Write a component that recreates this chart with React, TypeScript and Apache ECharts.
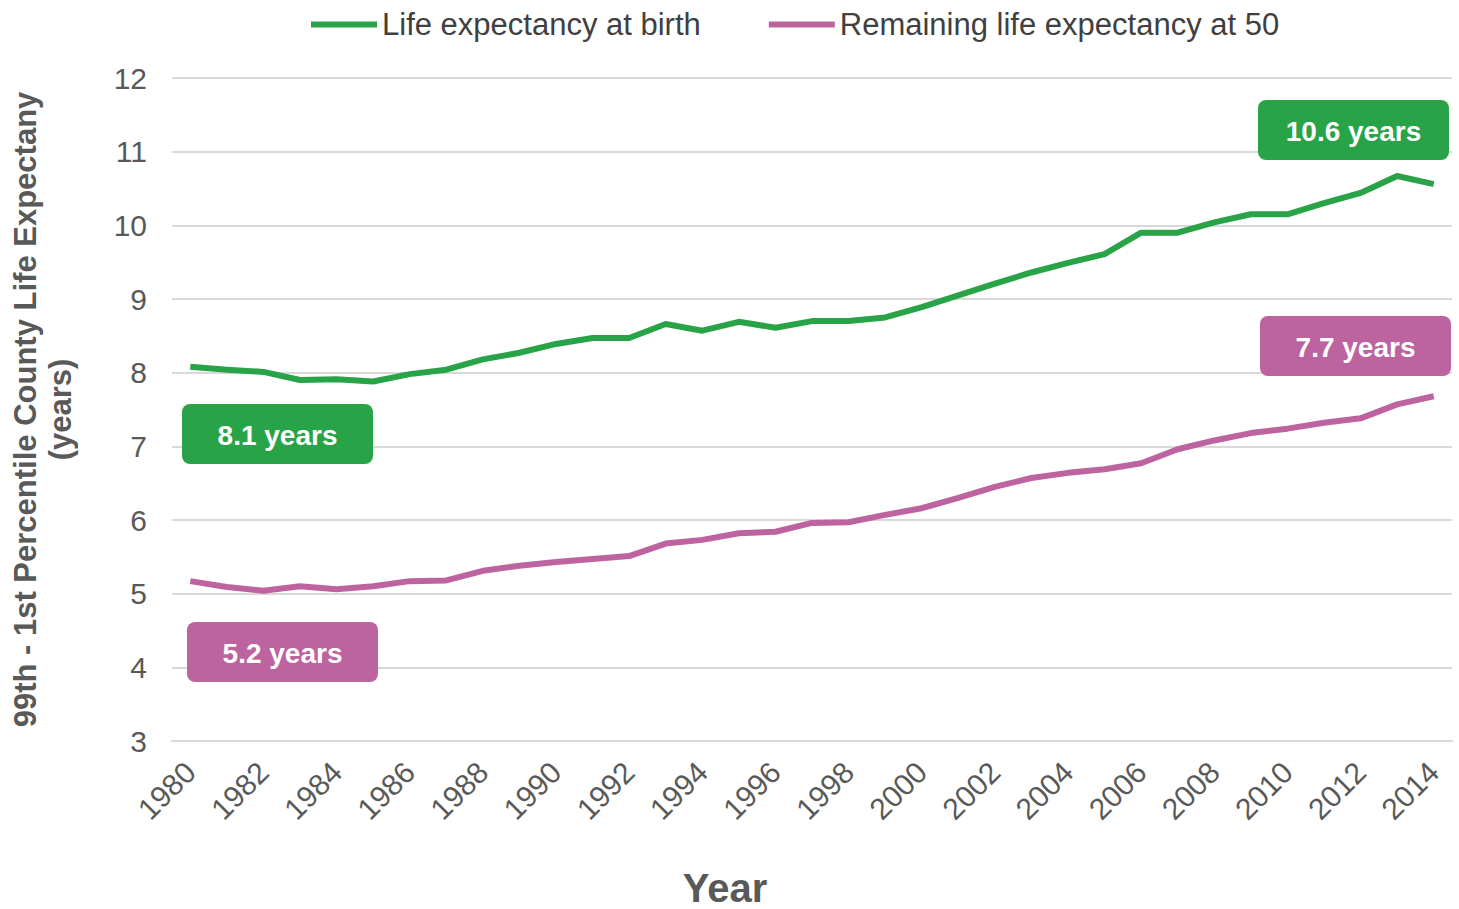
import React, { useEffect, useRef } from "react";
import * as echarts from "echarts";

const years: string[] = [
  "1980", "1981", "1982", "1983", "1984", "1985", "1986", "1987", "1988", "1989",
  "1990", "1991", "1992", "1993", "1994", "1995", "1996", "1997", "1998", "1999",
  "2000", "2001", "2002", "2003", "2004", "2005", "2006", "2007", "2008", "2009",
  "2010", "2011", "2012", "2013", "2014",
];

const lifeAtBirth: number[] = [
  8.08, 8.04, 8.01, 7.9, 7.91, 7.88, 7.98, 8.04, 8.18, 8.27,
  8.39, 8.47, 8.47, 8.66, 8.57, 8.69, 8.61, 8.7, 8.7, 8.75,
  8.89, 9.05, 9.21, 9.36, 9.49, 9.61, 9.9, 9.9, 10.04, 10.15,
  10.15, 10.3, 10.44, 10.67, 10.56,
];

const remainingAt50: number[] = [
  5.17, 5.09, 5.04, 5.1, 5.06, 5.1, 5.17, 5.18, 5.31, 5.38,
  5.43, 5.47, 5.51, 5.68, 5.73, 5.82, 5.84, 5.96, 5.97, 6.07,
  6.16, 6.3, 6.45, 6.57, 6.64, 6.69, 6.77, 6.96, 7.08, 7.18,
  7.24, 7.32, 7.38, 7.57, 7.68,
];

const seriesNames: string[] = ["Life expectancy at birth", "Remaining life expectancy at 50"];
const xAxisTitle = "Year";

const GREEN = "#29A347";
const PURPLE = "#BD64A0";
const FONT = "'Liberation Sans', Arial, sans-serif";

function badge(left: number, top: number, color: string, text: string) {
  return {
    type: "group",
    left,
    top,
    z: 100,
    children: [
      {
        type: "rect",
        z: 100,
        shape: { x: 0, y: 0, width: 191, height: 60, r: 8 },
        style: { fill: color },
      },
      {
        type: "text",
        z: 101,
        x: 95.5,
        y: 31,
        style: {
          text,
          fill: "#ffffff",
          font: `bold 28px ${FONT}`,
          align: "center",
          verticalAlign: "middle",
        },
      },
    ],
  };
}

export default function App() {
  const ref = useRef<HTMLDivElement>(null);

  useEffect(() => {
    if (!ref.current) return;
    const chart = echarts.init(ref.current, undefined, { renderer: "svg" });
    const fmt = (v: number) => `${v.toFixed(1)} years`;
    chart.setOption({
      animation: false,
      textStyle: { fontFamily: FONT },
      legend: {
        top: 4,
        left: 306,
        itemWidth: 66,
        itemHeight: 6,
        itemGap: 68,
        icon: "rect",
        textStyle: { fontSize: 31, color: "#404040", fontFamily: FONT },
        data: seriesNames,
      },
      grid: {
        left: 172,
        right: 7,
        top: 78,
        bottom: 168,
        containLabel: false,
        outerBoundsMode: "none",
      },
      xAxis: {
        type: "category",
        data: years,
        boundaryGap: true,
        axisLine: { show: true, lineStyle: { color: "#d9d9d9", width: 2 } },
        axisTick: { show: false },
        axisLabel: {
          interval: 1,
          rotate: 45,
          fontSize: 30,
          color: "#595959",
          margin: 26,
          fontFamily: FONT,
        },
      },
      yAxis: {
        type: "value",
        min: 3,
        max: 12,
        interval: 1,
        axisLine: { show: false },
        axisTick: { show: false },
        splitLine: { lineStyle: { color: "#d9d9d9", width: 2 } },
        axisLabel: { fontSize: 30, color: "#595959", margin: 25, fontFamily: FONT },
        name: "99th - 1st Percentile County Life Expectany\n(years)",
        nameLocation: "middle",
        nameGap: 94,
        nameMoveOverlap: false,
        nameTextStyle: {
          fontSize: 31,
          fontWeight: "bold",
          color: "#595959",
          lineHeight: 35,
          fontFamily: FONT,
        },
      },
      series: [
        {
          name: seriesNames[0],
          type: "line",
          data: lifeAtBirth,
          symbol: "none",
          color: GREEN,
          lineStyle: { width: 6, color: GREEN, join: "round" },
        },
        {
          name: seriesNames[1],
          type: "line",
          data: remainingAt50,
          symbol: "none",
          color: PURPLE,
          lineStyle: { width: 6, color: PURPLE, join: "round" },
        },
      ],
      graphic: [
        {
          type: "text",
          x: 725,
          y: 888,
          style: {
            text: xAxisTitle,
            fill: "#595959",
            font: `bold 40px ${FONT}`,
            align: "center",
            verticalAlign: "middle",
          },
        },
        badge(182, 404, GREEN, fmt(lifeAtBirth[0])),
        badge(1258, 100, GREEN, fmt(lifeAtBirth[lifeAtBirth.length - 1])),
        badge(187, 622, PURPLE, fmt(remainingAt50[0])),
        badge(1260, 316, PURPLE, fmt(remainingAt50[remainingAt50.length - 1])),
      ],
    });
    return () => chart.dispose();
  }, []);

  return (
    <div
      ref={ref}
      style={{ position: "fixed", left: 0, top: 0, width: 1459, height: 909, background: "#fff" }}
    />
  );
}
